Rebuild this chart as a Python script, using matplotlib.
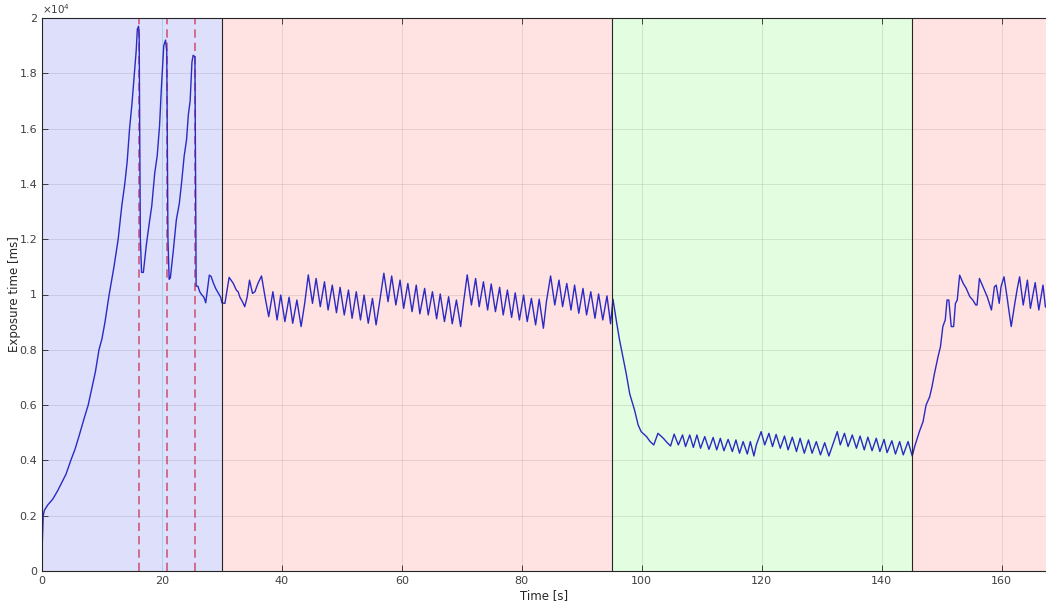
import matplotlib
matplotlib.use('Agg')
import matplotlib.pyplot as plt

# time [s] and exposure time [ms], split by phase
t_ramp = [0.05, 0.2, 0.4, 1.0, 1.8, 2.6, 3.3, 4.0, 4.8, 5.5,
          6.2, 7.0, 7.7, 8.3, 8.9, 9.5, 10.0, 10.5, 11.2, 12.0,
          12.7, 13.3, 13.8, 14.2, 14.6, 15.0, 15.4, 15.7, 15.9, 16.1,
          16.2, 16.4, 16.6, 16.9, 17.4, 17.9, 18.3, 18.8, 19.2, 19.6,
          19.9, 20.3, 20.6, 20.8, 21.0, 21.2, 21.4, 21.9, 22.4, 22.9,
          23.3, 23.7, 24.1, 24.4, 24.7, 25.0, 25.2, 25.5, 25.6, 25.7,
          26.0, 26.3, 26.6, 27.0, 27.3, 27.6, 27.9, 28.2, 28.6, 29.0,
          29.4, 29.8]
exp_ramp = [1000, 2000, 2200, 2400, 2600, 2900, 3200, 3500, 4000, 4400,
            4900, 5500, 6000, 6600, 7200, 8000, 8400, 9000, 10000, 11000,
            12000, 13200, 14000, 14800, 16000, 16900, 18000, 18800, 19600, 19700,
            19400, 12000, 10800, 10800, 11800, 12600, 13200, 14400, 15000, 16100,
            17450, 19000, 19200, 18800, 12000, 10550, 10600, 11600, 12700, 13300,
            14100, 15000, 15600, 16500, 17000, 18400, 18650, 18600, 14500, 10300,
            10300, 10100, 10000, 9900, 9700, 10200, 10700, 10650, 10400, 10200,
            10050, 9900]

t_red1 = [30.0, 30.5, 31.2, 31.9, 32.4, 32.7, 33.0, 33.4, 33.8, 34.2,
          34.6, 35.1, 35.5, 36.0, 36.6, 37.2, 37.8, 38.5, 39.2, 39.8,
          40.5, 41.2, 41.8, 42.5, 43.2, 43.8, 44.4, 45.1, 45.7, 46.4,
          47.1, 47.7, 48.4, 49.1, 49.7, 50.4, 51.1, 51.7, 52.4, 53.1,
          53.7, 54.4, 55.1, 55.7, 56.3, 57.0, 57.7, 58.3, 59.0, 59.7,
          60.3, 61.0, 61.7, 62.4, 63.0, 63.8, 64.4, 65.1, 65.8, 66.4,
          67.1, 67.8, 68.4, 69.1, 69.8, 70.3, 70.9, 71.6, 72.3, 72.9,
          73.6, 74.3, 74.9, 75.6, 76.3, 76.9, 77.6, 78.3, 78.9, 79.6,
          80.3, 80.9, 81.6, 82.3, 82.9, 83.6, 84.1, 84.8, 85.5, 86.2,
          86.8, 87.5, 88.2, 88.8, 89.5, 90.2, 90.8, 91.5, 92.2, 92.8,
          93.5, 94.2, 94.8, 95.2]
exp_red1 = [9700, 9680, 10620, 10400, 10160, 10100, 9900, 9750, 9560, 9900,
            10520, 10040, 10100, 10400, 10670, 9900, 9200, 10100, 9080, 9980,
            9020, 9900, 8960, 9800, 8840, 9680, 10710, 9680, 10580, 9560,
            10460, 9440, 10340, 9340, 10260, 9260, 10160, 9140, 10100, 9080,
            9980, 8960, 9860, 8900, 9740, 10770, 9740, 10670, 9620, 10520,
            9500, 10400, 9380, 10340, 9300, 10220, 9260, 10100, 9120, 10020,
            9020, 9920, 8940, 9800, 8840, 9740, 10710, 9620, 10580, 9560,
            10460, 9440, 10380, 9380, 10260, 9260, 10160, 9170, 10060, 9080,
            9980, 9020, 9860, 8900, 9830, 8780, 9740, 10670, 9620, 10520,
            9560, 10400, 9440, 10340, 9320, 10220, 9260, 10100, 9140, 10020,
            9080, 9950, 8940, 9830]

t_green = [95.8, 96.3, 96.8, 97.4, 98.0, 98.8, 99.4, 99.9, 100.8, 101.4,
           102.0, 102.7, 103.6, 104.2, 104.8, 105.4, 106.1, 106.8, 107.3, 108.0,
           108.6, 109.2, 109.8, 110.5, 111.2, 111.9, 112.5, 113.1, 113.7, 114.4,
           115.1, 115.7, 116.3, 116.9, 117.6, 118.1, 118.7, 119.1, 119.9, 120.5,
           121.2, 121.8, 122.4, 123.1, 123.8, 124.4, 125.1, 125.8, 126.4, 127.1,
           127.8, 128.4, 129.1, 129.8, 130.5, 131.2, 131.9, 132.6, 133.1, 133.8,
           134.4, 135.1, 135.8, 136.4, 137.1, 137.7, 138.4, 139.1, 139.7, 140.4,
           140.9, 141.7, 142.3, 143.0, 143.6, 144.4, 145.1]
exp_green = [9000, 8350, 7800, 7150, 6400, 5820, 5280, 5040, 4860, 4680,
             4560, 4980, 4800, 4650, 4520, 4950, 4560, 4920, 4500, 4920,
             4470, 4920, 4440, 4860, 4400, 4830, 4380, 4800, 4350, 4760,
             4320, 4740, 4260, 4680, 4230, 4680, 4160, 4560, 5040, 4560,
             4980, 4500, 4940, 4440, 4880, 4380, 4840, 4320, 4800, 4260,
             4740, 4260, 4680, 4200, 4640, 4160, 4600, 5040, 4560, 4980,
             4500, 4920, 4440, 4880, 4380, 4840, 4350, 4800, 4320, 4760,
             4280, 4710, 4230, 4680, 4200, 4680, 4160]

t_red2 = [145.5, 146.3, 146.9, 147.4, 148.0, 148.4, 148.8, 149.4, 149.8, 150.2,
          150.6, 150.9, 151.2, 151.6, 152.0, 152.3, 152.6, 153.0, 153.6, 154.1,
          154.7, 155.2, 155.7, 155.9, 156.3, 156.9, 157.6, 158.3, 158.8, 159.1,
          159.6, 159.9, 160.4, 160.9, 161.2, 161.6, 162.2, 162.6, 163.0, 163.6,
          164.3, 164.8, 165.6, 166.2, 166.9, 167.3, 167.6]
exp_red2 = [4500, 5050, 5400, 6000, 6300, 6670, 7140, 7750, 8110, 8840,
            9080, 9800, 9800, 8840, 8840, 9680, 9800, 10700, 10400, 10220,
            9920, 9800, 9620, 9620, 10580, 10280, 9920, 9440, 10280, 10340,
            9680, 10280, 10640, 9920, 9440, 8840, 9680, 10200, 10640, 9620,
            10520, 9500, 10430, 9440, 10340, 9560, 9500]

# phases: (start, end, colour)
phases = [(0, 30, '#dedffa'), (30, 95, '#ffe2e2'),
          (95, 145, '#e2fde0'), (145, 170, '#ffe2e2')]
phase_edges = [30, 95, 145]
reset_marks = [16.2, 20.9, 25.5]

y_ticks = [0, 2000, 4000, 6000, 8000, 10000, 12000, 14000, 16000, 18000, 20000]
y_labels = ['0', '0.2', '0.4', '0.6', '0.8', '1', '1.2', '1.4', '1.6', '1.8', '2']

t = t_ramp + t_red1 + t_green + t_red2
exposure = exp_ramp + exp_red1 + exp_green + exp_red2

fig = plt.figure(figsize=(10.46, 6.03), dpi=100)
ax = fig.add_axes([42 / 1046, 32 / 603, 1 - 42 / 1046, 553 / 603])

for start, end, col in phases:
    ax.axvspan(start, end, color=col, lw=0, zorder=0.1)

ax.set_axisbelow(True)
ax.grid(True, color='k', alpha=0.11, lw=0.6)

ax.axvline(20, color='#a8d6ec', lw=0.7, zorder=1)
for x in reset_marks:
    ax.axvline(x, color='#d0587a', lw=1.2, ls=(0, (5, 3)), zorder=1.5)
for x in phase_edges:
    ax.axvline(x, color='#262626', lw=0.8, zorder=3)

ax.plot(t, exposure, color='#2a2ac4', lw=1.0, zorder=2)

ax.set_xlim(0, 167.4)
ax.set_ylim(0, 20000)
ax.set_xticks(range(0, 161, 20))
ax.set_yticks(y_ticks)
ax.set_yticklabels(y_labels)
ax.tick_params(direction='in', length=4, width=0.6, color='#262626',
               labelcolor='#404040', labelsize=8, top=True, right=False)
for side in ['left', 'bottom', 'top']:
    ax.spines[side].set_color('#262626')
    ax.spines[side].set_linewidth(0.8)
ax.spines['right'].set_visible(False)

ax.text(0, 1.004, r'$\times 10^4$', transform=ax.transAxes, fontsize=7.5,
        color='#404040', ha='left', va='bottom')
ax.set_xlabel('Time [s]', fontsize=8.5, color='#262626', labelpad=2)
ax.set_ylabel('Exposure time [ms]', fontsize=8.5, color='#262626')
ax.yaxis.set_label_coords(-0.021, 0.5)

plt.savefig('out.png', dpi=100)
